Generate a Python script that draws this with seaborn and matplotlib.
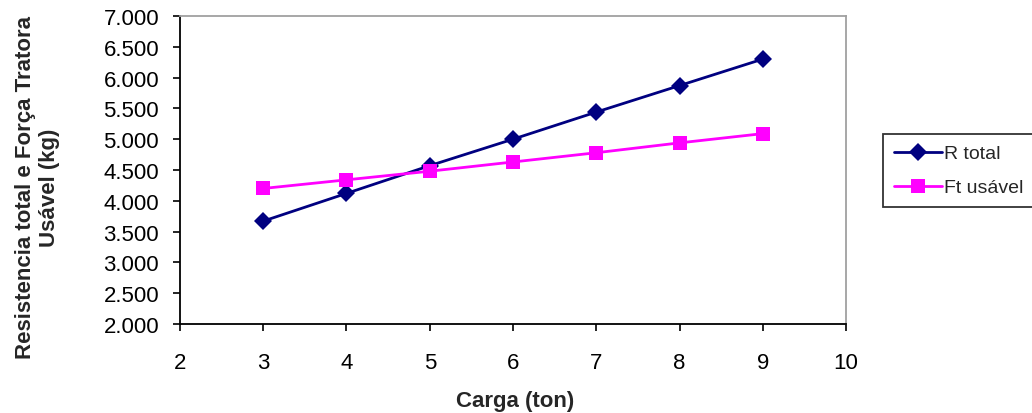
import matplotlib
matplotlib.use("Agg")
import matplotlib.pyplot as plt
import matplotlib.ticker as mticker
import seaborn as sns
import pandas as pd

carga = [3, 4, 5, 6, 7, 8, 9]
r_total = [3670, 4120, 4570, 5000, 5440, 5870, 6300]
ft_usavel = [4200, 4340, 4480, 4630, 4780, 4940, 5090]

sns.set_theme(style="white")
plt.rcParams['font.family'] = ['Liberation Sans', 'DejaVu Sans']

df = pd.DataFrame({"Carga": carga * 2,
                   "valor": r_total + ft_usavel,
                   "serie": ["R total"] * len(carga) + ["Ft usável"] * len(carga)})

fig = plt.figure(figsize=(10.32, 4.14), dpi=100)
ax = fig.add_axes([0.1744, 0.215, 0.8198 - 0.1744, 0.959 - 0.215])

sns.lineplot(data=df, x="Carga", y="valor", hue="serie", style="serie",
             palette={"R total": "#000080", "Ft usável": "#FF00FF"},
             markers={"R total": "D", "Ft usável": "s"}, dashes=False,
             markersize=9.5, linewidth=2, markeredgewidth=0, ax=ax)
for ln in ax.lines:
    if ln.get_marker() == "s":
        ln.set_markersize(10.5)

ax.set_xlim(2, 10)
ax.set_ylim(2000, 7000)
ax.set_xticks(range(2, 11))
ax.set_yticks(range(2000, 7001, 500))
ax.yaxis.set_major_formatter(mticker.FuncFormatter(lambda v, p: f"{int(v):,}".replace(",", ".")))
ax.tick_params(axis="both", which="major", labelsize=16, length=5, width=1.2,
               direction="out", colors="black", left=True, bottom=True)
ax.tick_params(axis="x", pad=15)
ax.tick_params(axis="y", pad=10)
ax.set_xlabel("Carga (ton)", fontsize=16, fontweight="bold")
ax.set_ylabel("Resistencia total e Força Tratora\nUsável (kg)", fontsize=16,
              fontweight="bold")
ax.xaxis.set_label_coords(0.503, -0.215)
ax.yaxis.set_label_coords(-0.18, 0.445)

for s in ["left", "bottom"]:
    ax.spines[s].set_color("black")
    ax.spines[s].set_linewidth(1.3)
for s in ["top", "right"]:
    ax.spines[s].set_color("#a0a0a0")
    ax.spines[s].set_linewidth(1.3)

leg = ax.legend(loc="center left", bbox_to_anchor=(1.0556, 0.498), frameon=True,
                fontsize=14, handlelength=2.5, fancybox=False, edgecolor="black",
                borderpad=0.55, labelspacing=0.85, handletextpad=0.1, borderaxespad=0,
                title=None)
leg.get_frame().set_linewidth(1.3)

fig.savefig("out.png", dpi=100)
